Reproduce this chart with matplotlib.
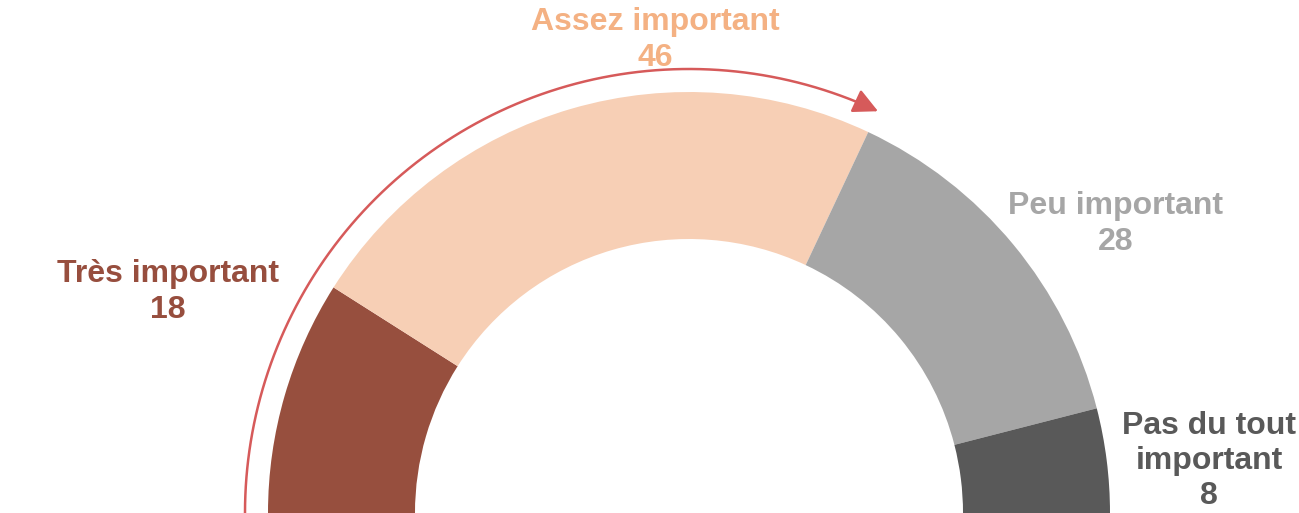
import numpy as np
import matplotlib.pyplot as plt
from matplotlib.path import Path
from matplotlib.patches import FancyArrowPatch

plt.rcParams['font.family'] = ['Liberation Sans', 'DejaVu Sans']

labels = ['Très important', 'Assez important', 'Peu important', 'Pas du tout\nimportant']
values = [18, 46, 28, 8]
wedge_colors = ['#974F3E', '#F7CFB5', '#A6A6A6', '#595959']
text_colors = ['#974E3E', '#F4B183', '#A6A6A6', '#595959']
# label centres, in pixels (y up)
label_pos = [(168, 221), (655, 473), (1116, 289), (1209, 52)]

fig = plt.figure(figsize=(12.99, 5.13), dpi=100)
ax = fig.add_axes([0, 0, 1, 1])

cx, cy = 689, 0
r_out, r_in = 421, 274
total = sum(values)

# half donut: add an invisible wedge for the lower half
ax.pie(values + [total], radius=r_out, center=(cx, cy), startangle=180,
       counterclock=False, colors=wedge_colors + ['none'],
       wedgeprops=dict(width=r_out - r_in, linewidth=0))

for lab, v, col, (x, y) in zip(labels, values, text_colors, label_pos):
    ax.text(x, y, '%s\n%d' % (lab, v), ha='center', va='center', color=col,
            fontsize=23, fontweight='bold', linespacing=1.22)

# arrow over the first two segments
frac = (values[0] + values[1]) / total
r_arr = 444
th = np.linspace(np.pi, np.pi * (1 - frac), 200)
verts = np.column_stack([cx + r_arr * np.cos(th), cy + r_arr * np.sin(th)])
arr = FancyArrowPatch(path=Path(verts), arrowstyle='-|>,head_length=0.5,head_width=0.25',
                      mutation_scale=30, color='#D65A5A', linewidth=1.8)
ax.add_patch(arr)

ax.set_xlim(0, 1299)
ax.set_ylim(0, 513)
ax.set_aspect('auto')
ax.axis('off')

plt.savefig('out.png', dpi=100)
